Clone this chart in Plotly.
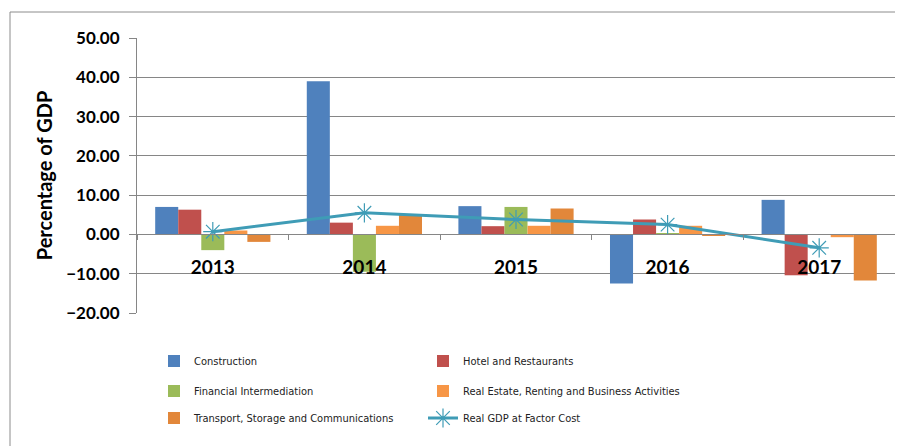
import plotly.graph_objects as go

years = ["2013", "2014", "2015", "2016", "2017"]
construction = [7.0, 39.0, 7.2, -12.5, 8.8]
hotel = [6.3, 3.0, 2.1, 3.8, -10.4]
financial = [-4.0, -9.5, 7.0, 0.3, 0.1]
real_estate = [1.0, 2.2, 2.2, 2.2, -0.7]
transport = [-1.9, 5.1, 6.6, -0.3, -11.7]
real_gdp = [0.7, 5.5, 3.8, 2.5, -3.4]

series = [
    ("Construction", construction, "#4F81BD", "legend"),
    ("Hotel and Restaurants", hotel, "#C0504D", "legend"),
    ("Financial Intermediation", financial, "#9BBB59", "legend2"),
    ("Real Estate, Renting and Business Activities", real_estate, "#F79646", "legend2"),
    ("Transport, Storage and Communications", transport, "#E2873A", "legend3"),
]

fig = go.Figure()
for name, vals, color, leg in series:
    fig.add_trace(go.Bar(x=years, y=vals, name=name, marker_color=color,
                         marker_line_width=0, legend=leg))

fig.add_trace(go.Scatter(x=years, y=real_gdp, name="Real GDP at Factor Cost",
                         mode="lines+markers", legend="legend3",
                         line=dict(color="#3F9CB6", width=3),
                         marker=dict(symbol="asterisk-open", size=16,
                                     color="#3F9CB6", line=dict(width=1.2, color="#3F9CB6"))))

# page body has an 8px margin; work in screen pixels and convert
OFF = 8
W, H = 903 - OFF, 446 - OFF
L = 137 - OFF
T = 38 - OFF
plot_right = 895 - OFF
plot_bottom = 313 - OFF
R = W - plot_right
B = H - plot_bottom
pw = W - L - R
ph = H - T - B

def py(pix):
    return (plot_bottom - (pix - OFF)) / ph

def px(pix):
    return ((pix - OFF) - L) / pw

legfont = dict(family="DejaVu Sans Condensed, Liberation Sans Narrow, sans-serif", size=11, color="#222")
legcommon = dict(orientation="h", x=px(154), xanchor="left", yanchor="middle",
                 entrywidth=224, entrywidthmode="pixels", font=legfont,
                 bgcolor="rgba(0,0,0,0)", traceorder="normal")

fig.update_layout(
    width=W, height=H,
    margin=dict(l=L, r=R, t=T, b=B, pad=0),
    paper_bgcolor="white", plot_bgcolor="white",
    barmode="group", bargap=0.24, bargroupgap=0,
    legend=dict(y=py(361), **legcommon),
    legend2=dict(y=py(391), **legcommon),
    legend3=dict(y=py(418), **legcommon),
    xaxis=dict(type="category", anchor="free", position=20/70,
               showline=True, linecolor="#868686", linewidth=1,
               ticks="outside", ticklen=5, tickcolor="#868686", tickson="boundaries",
               showgrid=False, zeroline=False, ticklabelstandoff=16, automargin=False,
               tickfont=dict(family="Lato, sans-serif", size=19, color="black", weight="bold")),
    yaxis=dict(range=[-20, 50], tickvals=[-20, -10, 0, 10, 20, 30, 40, 50],
               tickformat=".2f", showgrid=True, gridcolor="#868686", gridwidth=1,
               zeroline=False, showline=True, linecolor="#868686", linewidth=1,
               ticks="outside", ticklen=7, tickcolor="#868686", automargin=False,
               ticklabelstandoff=6,
               tickfont=dict(family="Lato, sans-serif", size=17, color="black", weight="bold"),
               title=dict(text="Percentage of GDP", standoff=8,
                          font=dict(family="Lato, sans-serif", size=20, color="black", weight="bold"))),
    shapes=[dict(type="rect", xref="paper", yref="paper",
                 x0=px(10), x1=px(920), y0=py(470), y1=py(12),
                 line=dict(color="#8C8C8C", width=1), fillcolor="rgba(0,0,0,0)", layer="below")],
)

fig.write_html("out.html")
